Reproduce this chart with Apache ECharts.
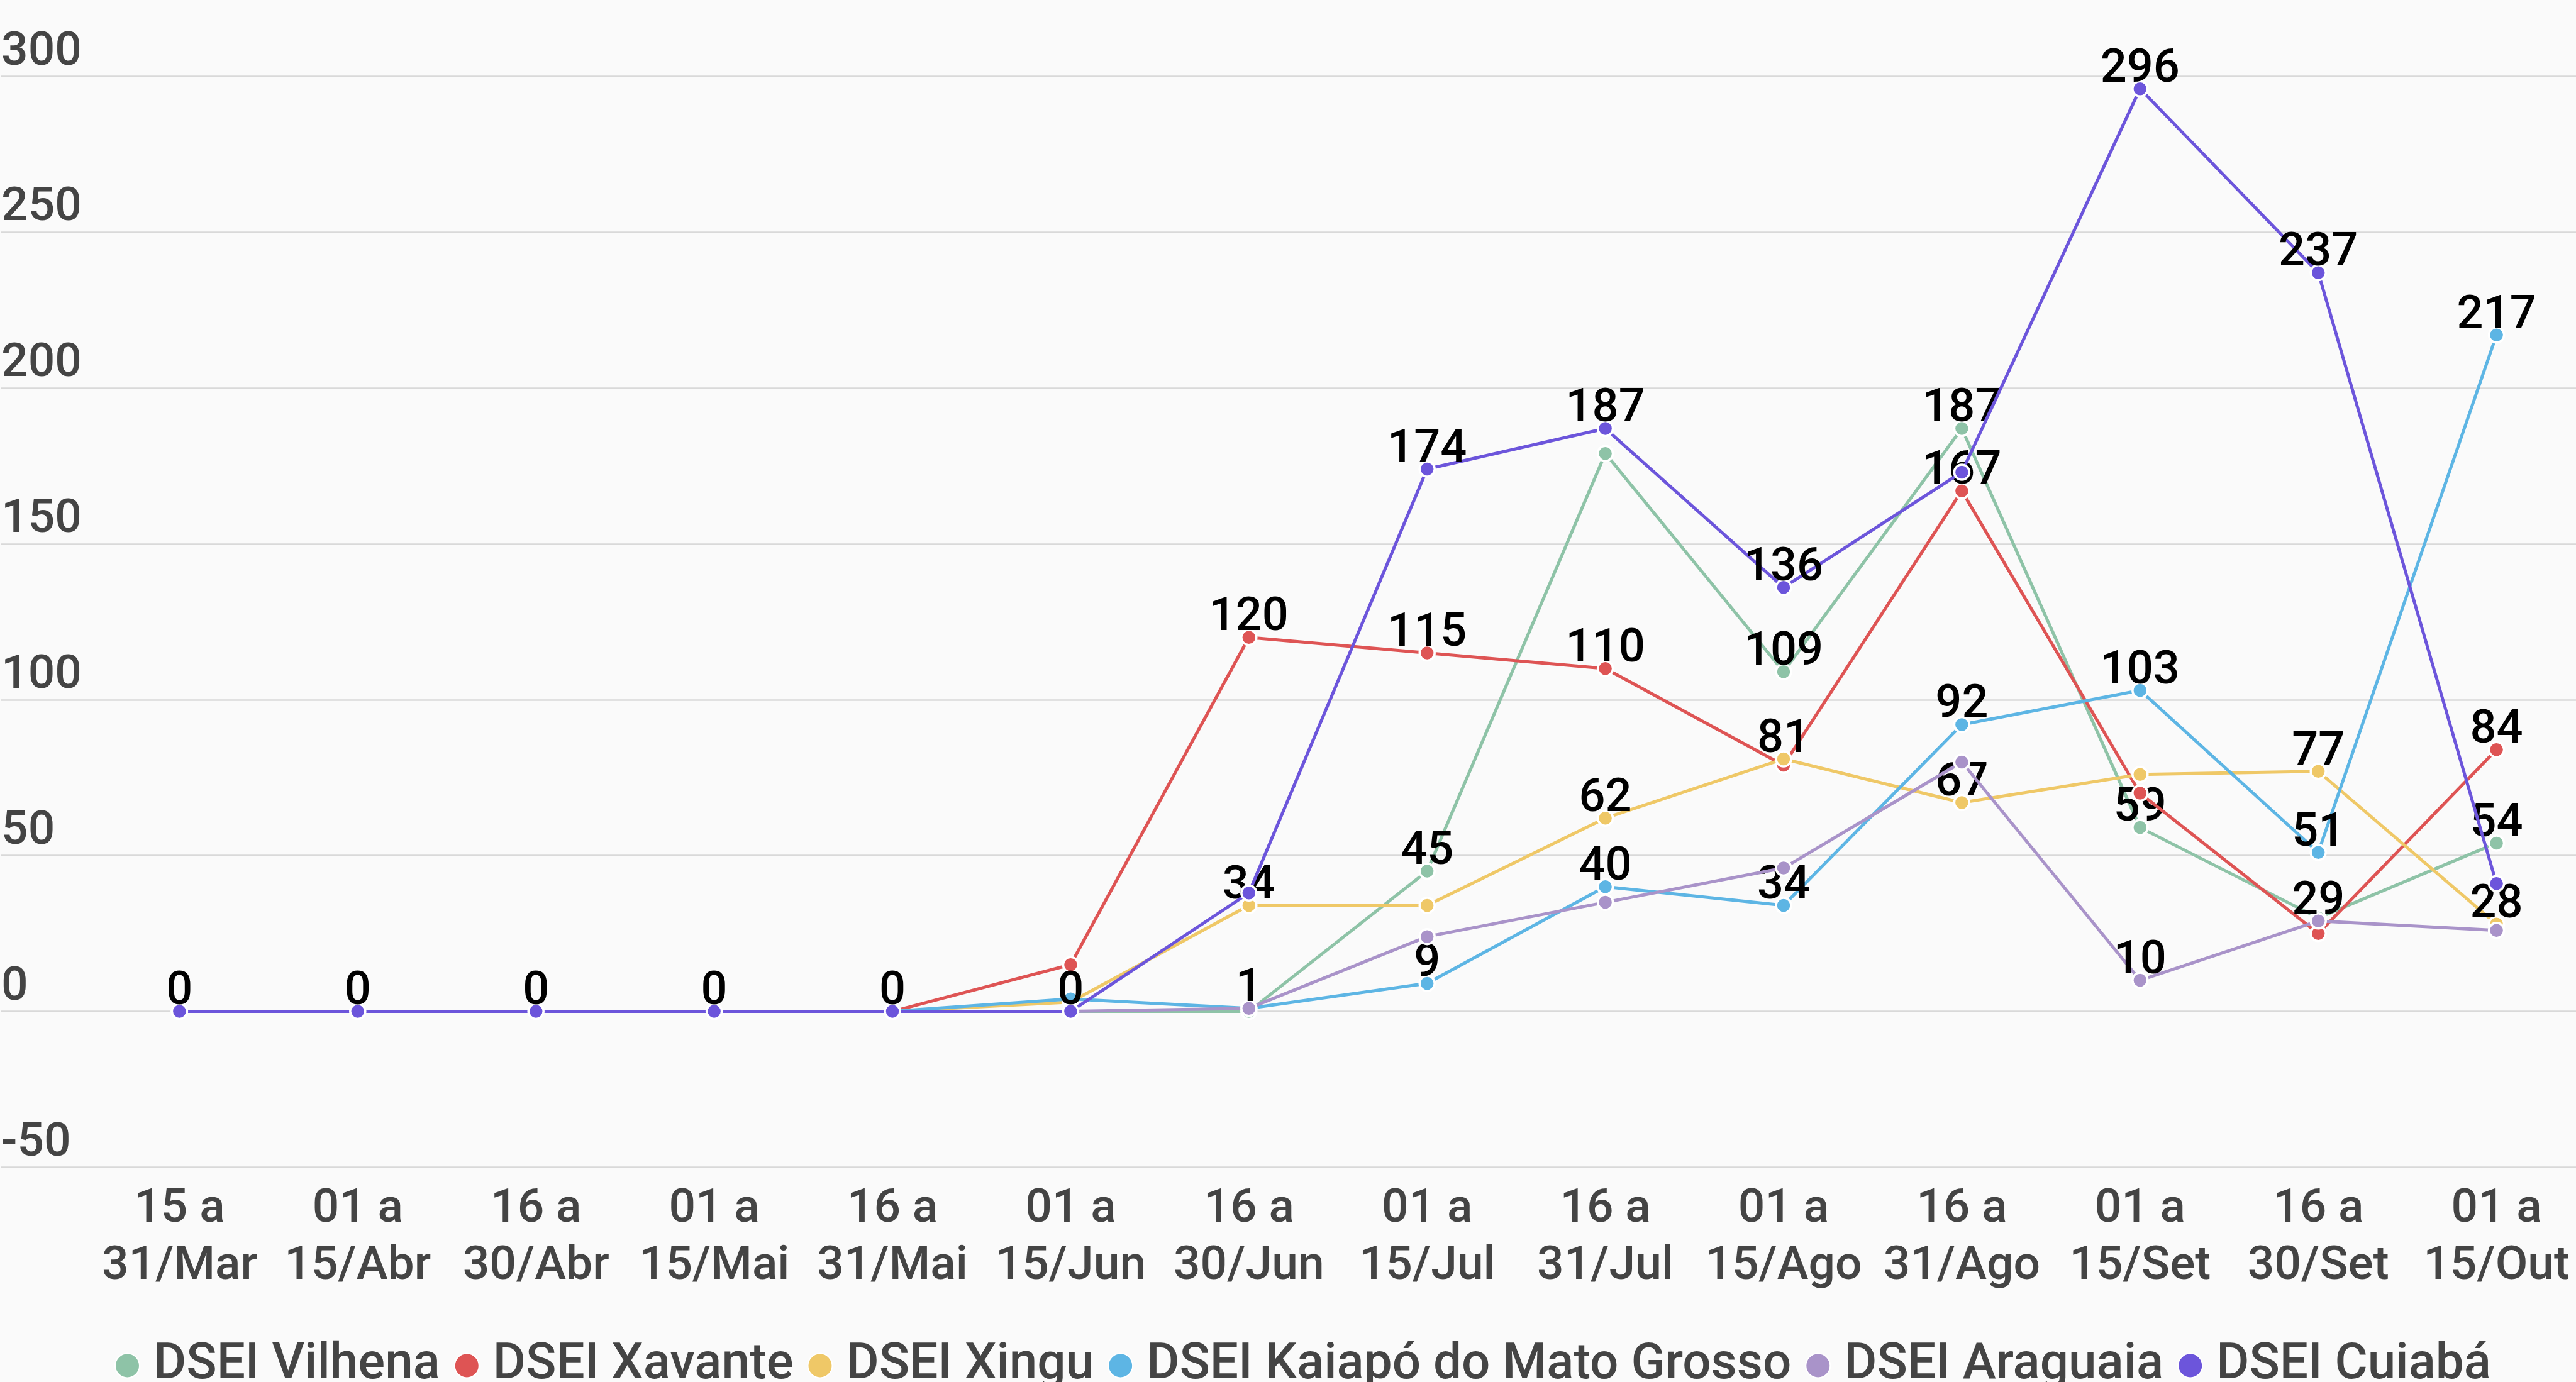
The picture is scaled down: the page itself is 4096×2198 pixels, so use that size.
<!DOCTYPE html>
<html>
<head>
<meta charset="utf-8">
<script src="https://cdn.jsdelivr.net/npm/echarts@6/dist/echarts.min.js"></script>
<style>
  html, body { margin: 0; padding: 0; background: #fafafa; }
  #chart { width: 4096px; height: 2198px; }
</style>
</head>
<body>
<div id="chart"></div>
<script>
// Fortnightly periods
const categories = [
  '15 a\n31/Mar', '01 a\n15/Abr', '16 a\n30/Abr', '01 a\n15/Mai', '16 a\n31/Mai',
  '01 a\n15/Jun', '16 a\n30/Jun', '01 a\n15/Jul', '16 a\n31/Jul', '01 a\n15/Ago',
  '16 a\n31/Ago', '01 a\n15/Set', '16 a\n30/Set', '01 a\n15/Out'
];

// Y-axis ticks
const yTicks = [-50, 0, 50, 100, 150, 200, 250, 300];

// Cases per DSEI
const seriesNames = ['DSEI Vilhena', 'DSEI Xavante', 'DSEI Xingu', 'DSEI Kaiapó do Mato Grosso', 'DSEI Araguaia', 'DSEI Cuiabá'];
const vilhena  = [0, 0, 0, 0, 0, 0, 0, 45, 179, 109, 187, 59, 30, 54];
const xavante  = [0, 0, 0, 0, 0, 15, 120, 115, 110, 79, 167, 70, 25, 84];
const xingu    = [0, 0, 0, 0, 0, 3, 34, 34, 62, 81, 67, 76, 77, 28];
const kaiapo   = [0, 0, 0, 0, 0, 4, 1, 9, 40, 34, 92, 103, 51, 217];
const araguaia = [0, 0, 0, 0, 0, 0, 1, 24, 35, 46, 80, 10, 29, 26];
const cuiaba   = [0, 0, 0, 0, 0, 0, 38, 174, 187, 136, 173, 296, 237, 41];

// Which points carry a value label (1 = shown)
const vilhenaLbl  = [0, 0, 0, 0, 0, 0, 0, 1, 0, 1, 1, 1, 0, 1];
const xavanteLbl  = [0, 0, 0, 0, 0, 0, 1, 1, 1, 0, 1, 0, 0, 1];
const xinguLbl    = [0, 0, 0, 0, 0, 0, 1, 0, 1, 1, 1, 0, 1, 1];
const kaiapoLbl   = [0, 0, 0, 0, 0, 0, 0, 1, 1, 1, 1, 1, 1, 1];
const araguaiaLbl = [0, 0, 0, 0, 0, 0, 1, 0, 0, 0, 0, 1, 1, 0];
const cuiabaLbl   = [1, 1, 1, 1, 1, 1, 0, 1, 1, 1, 0, 1, 1, 0];

const colors = ['#8ec3a7', '#de5454', '#efc867', '#5db5e4', '#a993c9', '#6c55db'];

const values = [vilhena, xavante, xingu, kaiapo, araguaia, cuiaba];
const labelFlags = [vilhenaLbl, xavanteLbl, xinguLbl, kaiapoLbl, araguaiaLbl, cuiabaLbl];

const FONT = 'Roboto';
const WEIGHT = 500;

const series = seriesNames.map((name, s) => ({
  name,
  type: 'line',
  z: 2 + s,
  symbol: 'circle',
  symbolSize: 24,
  color: colors[s],
  lineStyle: { width: 5, color: colors[s] },
  itemStyle: { color: colors[s], borderColor: '#ffffff', borderWidth: 3.5 },
  emphasis: { disabled: true },
  animation: false,
  label: {
    position: 'top',
    distance: -21,
    color: '#000000',
    fontFamily: FONT,
    fontSize: 74,
    fontWeight: WEIGHT
  },
  data: values[s].map((v, i) => ({
    value: [i, v],
    label: { show: labelFlags[s][i] === 1, formatter: String(v) }
  }))
}));

const chart = echarts.init(document.getElementById('chart'), null, { renderer: 'canvas' });
chart.setOption({
  backgroundColor: '#fafafa',
  animation: false,
  grid: { left: 2, right: 0, top: 121.3, bottom: 341.5, outerBoundsMode: 'none', containLabel: false },
  legend: {
    left: 177,
    top: 2127,
    icon: 'circle',
    itemWidth: 39,
    itemHeight: 39,
    itemGap: 22,
    data: seriesNames,
    textStyle: { fontFamily: FONT, fontSize: 80, fontWeight: WEIGHT, color: '#444444', padding: [0, 0, 0, 17] }
  },
  xAxis: {
    type: 'value',
    min: -1,
    max: 13.446,
    interval: 1,
    axisLine: { show: false },
    axisTick: { show: false },
    splitLine: { show: false },
    axisLabel: {
      showMinLabel: true,
      showMaxLabel: true,
      margin: 22,
      color: '#444444',
      fontFamily: FONT,
      fontSize: 75,
      fontWeight: WEIGHT,
      lineHeight: 91,
      formatter: v => (Number.isInteger(v) && v >= 0 && v < categories.length) ? categories[v] : ''
    }
  },
  yAxis: {
    type: 'value',
    min: yTicks[0],
    max: yTicks[yTicks.length - 1],
    interval: 50,
    axisLine: { show: false },
    axisTick: { show: false },
    splitLine: { show: true, lineStyle: { color: '#d9d9d9', width: 2.5 } },
    axisLabel: {
      inside: true,
      align: 'left',
      verticalAlign: 'bottom',
      margin: 0,
      padding: [0, 0, 0, 0],
      color: '#444444',
      fontFamily: FONT,
      fontSize: 75,
      fontWeight: WEIGHT
    }
  },
  series
});
</script>
</body>
</html>
